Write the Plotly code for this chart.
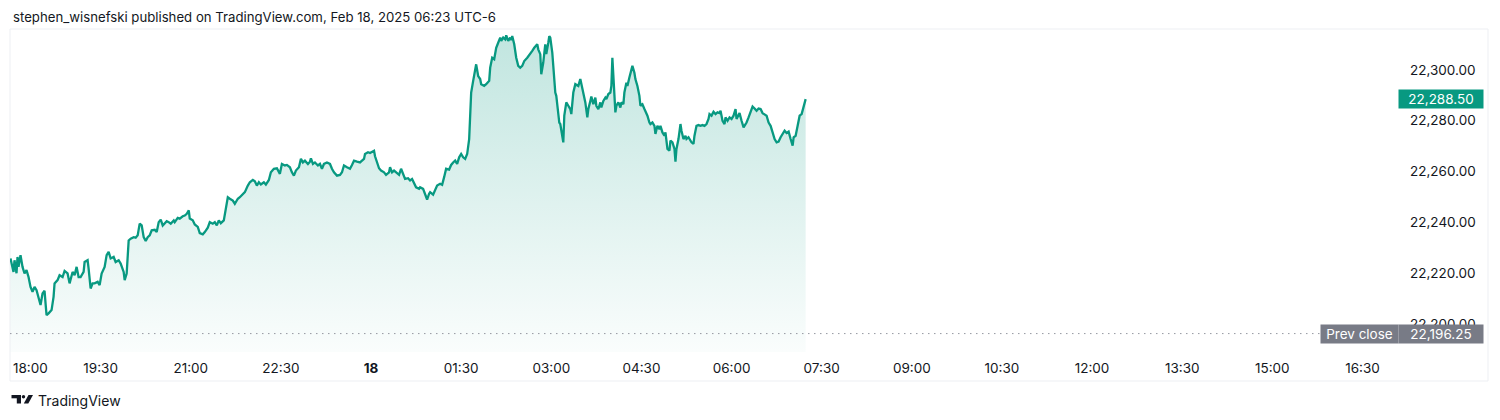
import plotly.graph_objects as go
import pandas as pd

# ---------------- data ----------------
session_start = "2025-02-17 18:00"
minutes = [0,3,4,6,7,8,10,12,14,16,18,20,22,24,26,28,30,32,34,35,36,38,41,43,44,47,49,52,54,57,59,62,64,66,68,70,73,74,77,78,80,82,84,87,89,91,94,96,98,100,103,105,108,110,113,114,116,118,120,123,125,127,129,131,133,135,137,139,141,144,146,148,150,152,154,156,158,160,163,164,167,169,172,174,176,178,179,182,184,187,189,192,194,197,199,202,204,206,208,210,213,215,217,219,222,224,227,229,232,234,237,239,242,244,246,248,250,253,255,258,260,
           263,266,269,271,274,276,279,281,283,285,288,290,292,294,297,299,300,302,304,307,309,311,313,316,319,321,323,326,329,331,333,336,339,341,343,346,349,351,353,354,357,359,361,363,364,366,368,370,373,375,378,379,381,383,385,388,390,392,394,397,399,401,403,405,408,409,412,414,416,418,419,422,424,426,429,431,433,435,438,440,442,444,446,448,450,452,454,456,458,459,460,462,463,465,467,469,470,473,475,478,479,481,483,485,487,489,490,492,494,495,497,499,500,501,503,505,507,509,511,513,516,519,521,523,526,527,529,530,532,534,535,537,538,539,
           541,542,543,544,545,547,548,549,551,552,553,554,555,557,559,560,561,562,564,567,569,570,571,573,574,576,577,579,580,582,584,585,587,589,590,592,594,595,597,599,600,601,603,604,605,607,609,610,612,613,615,616,618,619,621,623,624,626,628,629,631,633,635,636,638,639,641,643,644,646,648,649,651,653,654,656,658,659,661,663,664,665,667,669,670,672,674,675,677,679,680,682,683,685,687,689,691,693,695,697,698,700,702,704,706,708,709,711,713,714,716,718,720,722,724,725,727,728,730,732,734,735,737,739,741,743,745,747,749,751,753,755,757,759,761,763,765,767,769,771,773,775,777,779,781,782,784,786,788,790,792,794]
prices = [22225.8,22220.5,22225.1,22220.0,22226.4,22222.5,22227.1,22222.5,22219.9,22221.2,22218.5,22214.6,22212.7,22214.6,22213.3,22210.7,22207.5,22212.0,22213.1,22208.1,22203.5,22204.2,22205.5,22210.7,22216.0,22217.3,22219.2,22218.5,22220.9,22219.9,22216.0,22220.5,22219.2,22222.5,22218.5,22218.5,22220.5,22224.4,22225.1,22221.8,22214.0,22216.0,22216.0,22216.6,22215.3,22219.9,22222.5,22227.1,22228.4,22225.8,22226.4,22224.4,22225.1,22223.8,22220.5,22217.3,22219.9,22232.9,22233.6,22234.2,22234.0,22234.9,22239.5,22238.8,22234.2,22232.7,22234.2,22234.9,22236.9,22237.1,22236.2,22240.1,22241.1,22238.8,22239.5,22240.5,22240.1,22239.5,22240.8,22240.1,22241.8,22241.5,22242.4,22242.7,22243.4,22244.7,22241.5,22240.8,22239.2,22238.2,22235.8,22235.3,22236.2,22237.9,22240.1,22239.5,22240.1,22238.8,22240.8,22239.7,22240.8,22244.7,22249.9,22249.3,22248.6,22247.3,22249.3,22249.9,22251.3,22251.9,22254.5,22255.8,22256.7,22256.2,22254.5,22255.8,22254.9,22255.8,22254.9,22256.7,22259.7,
          22261.1,22261.3,22259.1,22263.0,22262.4,22262.6,22261.7,22259.7,22258.4,22260.4,22261.7,22265.0,22263.6,22264.3,22263.0,22263.9,22265.2,22263.0,22263.6,22262.4,22263.0,22261.1,22263.0,22263.6,22263.0,22261.1,22259.7,22258.4,22258.7,22259.7,22262.4,22261.7,22261.1,22262.6,22264.3,22263.9,22263.6,22264.3,22265.0,22266.9,22267.6,22267.3,22267.8,22268.2,22266.0,22263.6,22261.3,22260.4,22259.7,22258.7,22259.7,22261.7,22259.7,22260.4,22259.7,22258.7,22261.1,22259.1,22257.1,22257.4,22256.5,22257.1,22255.2,22253.8,22253.2,22253.8,22253.2,22250.6,22249.0,22251.3,22251.9,22250.9,22252.5,22254.5,22255.2,22254.8,22257.8,22261.1,22260.8,22262.6,22263.6,22264.3,22263.0,22265.6,22266.9,22265.6,22265.0,22266.9,22272.8,22280.7,22291.1,22295.7,22298.3,22302.2,22297.6,22296.4,22294.4,22293.7,22294.4,22295.7,22300.9,22304.8,22304.2,22308.7,22310.7,22312.7,22311.4,22312.7,22312.0,22313.6,22311.4,22312.7,22311.8,22313.3,22310.1,22304.8,22301.6,22300.9,22301.6,22303.5,22304.8,22306.2,22307.5,22308.7,22310.1,22308.1,22306.2,22298.3,22302.9,22310.1,22306.2,22310.7,22313.3,22312.7,
          22306.8,22301.6,22295.0,22291.1,22289.8,22282.6,22279.3,22278.7,22274.1,22271.5,22282.0,22283.9,22287.2,22285.9,22284.6,22282.6,22285.9,22291.1,22294.4,22293.7,22296.4,22294.4,22292.4,22289.8,22287.2,22281.3,22284.6,22287.8,22289.5,22286.5,22289.1,22285.9,22284.6,22287.2,22285.2,22287.8,22289.1,22288.5,22290.5,22291.1,22293.7,22304.8,22291.1,22283.3,22285.9,22287.2,22285.2,22287.2,22286.5,22291.1,22295.0,22293.7,22297.0,22298.9,22301.6,22298.9,22296.4,22293.7,22289.8,22285.9,22286.5,22284.6,22283.0,22282.0,22279.3,22278.7,22279.3,22278.0,22274.8,22278.0,22276.7,22278.0,22275.4,22274.1,22275.4,22268.9,22268.2,22272.2,22271.5,22268.9,22263.9,22268.9,22272.8,22278.7,22276.1,22272.8,22274.1,22272.8,22273.5,22272.2,22271.5,22270.9,22274.1,22278.0,22278.3,22278.0,22278.3,22278.0,22278.7,22280.7,22282.6,22282.0,22283.5,22282.6,22283.3,22283.0,22283.9,22280.0,22278.7,22281.3,22280.0,22281.3,22280.7,22282.0,22284.6,22280.7,22282.2,22283.0,22280.0,22277.4,22278.7,22279.3,22281.3,22283.9,22285.6,22284.8,22283.9,22284.8,22284.6,22283.0,22282.6,22282.0,22279.3,22278.0,22275.4,22272.8,22271.5,22271.8,22273.5,22274.8,22276.1,22275.2,22275.7,22272.8,22270.2,22273.5,22274.1,22278.0,22282.0,22282.6,22285.2,22288.5]

prev_close = 22196.25
last_price = 22288.50
x_tick_labels = ["18:00", "19:30", "21:00", "22:30", "18", "01:30", "03:00", "04:30",
                 "06:00", "07:30", "09:00", "10:30", "12:00", "13:30", "15:00", "16:30"]
x_tick_step_min = 90
y_ticks = [22200, 22220, 22240, 22260, 22280, 22300]
header = "stephen_wisnefski published on TradingView.com, Feb 18, 2025 06:23 UTC-6"

# ---------------- styling / layout ----------------
W, H = 1500, 420
GREEN = "#089981"
TEXT = "#131722"
GREY_BOX = "#787B86"
FONT = "Inter, Roboto, sans-serif"

def px(x):
    return x / W

def py(y):
    return 1 - y / H

t0 = pd.Timestamp(session_start)
xs = [t0 + pd.Timedelta(minutes=m) for m in minutes]
x_range = [t0 - pd.Timedelta(minutes=0.5), t0 + pd.Timedelta(minutes=1382.5)]
y_range = [22189.0, 22316.1]

tickvals = [t0 + pd.Timedelta(minutes=i * x_tick_step_min) for i in range(len(x_tick_labels))]
ticktext = [("<b>%s</b>" % t) if ":" not in t else t for t in x_tick_labels]

fig = go.Figure()
# invisible baseline at the bottom of the plotting area (for the gradient fill)
fig.add_trace(go.Scatter(x=[xs[0], xs[-1]], y=[y_range[0], y_range[0]], mode="lines",
                         line=dict(width=0, color="rgba(0,0,0,0)"), hoverinfo="skip",
                         showlegend=False))
fig.add_trace(go.Scatter(x=xs, y=prices, mode="lines", line=dict(color=GREEN, width=2.3),
                         fill="tonexty",
                         fillgradient=dict(type="vertical",
                                           colorscale=[[0, "rgba(8,153,129,0.02)"],
                                                       [1, "rgba(8,153,129,0.25)"]]),
                         showlegend=False, hoverinfo="skip"))

fig.update_layout(
    width=W, height=H,
    margin=dict(l=0, r=0, t=0, b=0),
    paper_bgcolor="white", plot_bgcolor="white",
    font=dict(family=FONT, size=13, color=TEXT),
    xaxis=dict(domain=[px(10), px(1395)], range=x_range, type="date",
               tickmode="array", tickvals=tickvals[1:], ticktext=ticktext[1:],
               showgrid=False, zeroline=False, showline=False, ticks="",
               ticklabelstandoff=6, tickfont=dict(size=13.5, color=TEXT, family=FONT)),
    yaxis=dict(domain=[py(352), py(29)], range=y_range, side="right",
               tickmode="array", tickvals=y_ticks, tickformat=",.2f",
               showgrid=False, zeroline=False, showline=False, ticks="",
               ticklabelstandoff=14, tickfont=dict(size=13.5, color=TEXT, family=FONT)),
)

shapes = [
    # chart frame
    dict(type="rect", xref="paper", yref="paper", x0=px(10), x1=px(1488), y0=py(381), y1=py(29),
         line=dict(color="#EDEFF3", width=1), layer="below"),
    # prev close dotted line
    dict(type="line", xref="paper", yref="y", x0=px(10), x1=px(1321), y0=prev_close, y1=prev_close,
         line=dict(color="#9598A1", width=1, dash="1.5px,4.5px")),
    # TradingView logo
    dict(type="rect", xref="paper", yref="paper", x0=px(11.5), x1=px(21), y0=py(398.3), y1=py(395),
         fillcolor=TEXT, line=dict(width=0)),
    dict(type="rect", xref="paper", yref="paper", x0=px(16.8), x1=px(21), y0=py(403.5), y1=py(395),
         fillcolor=TEXT, line=dict(width=0)),
    dict(type="circle", xref="paper", yref="paper", x0=px(21.8), x1=px(25.2), y0=py(398.4), y1=py(395),
         fillcolor=TEXT, line=dict(width=0)),
    dict(type="path", xref="paper", yref="paper",
         path="M %f %f L %f %f L %f %f L %f %f Z" % (px(23.8), py(403.5), px(28.3), py(403.5),
                                                     px(33), py(395), px(28.5), py(395)),
         fillcolor=TEXT, line=dict(width=0)),
]
fig.update_layout(shapes=shapes)

annotations = [
    dict(text=header, xref="paper", yref="paper", x=px(11), y=py(17), xanchor="left",
         yanchor="middle", showarrow=False, font=dict(size=13.2, color=TEXT, family=FONT)),
    dict(text=x_tick_labels[0], xref="paper", yref="paper", x=px(11), y=py(368), xanchor="left",
         yanchor="middle", showarrow=False, font=dict(size=13.5, color=TEXT, family=FONT)),
    dict(text="TradingView", xref="paper", yref="paper", x=px(36), y=py(400), xanchor="left",
         yanchor="middle", showarrow=False, font=dict(size=14, color=TEXT, family=FONT)),
    dict(text="%s" % format(last_price, ",.2f"), xref="paper", yref="y", x=px(1441), y=last_price,
         xanchor="center", yanchor="middle", showarrow=False, bgcolor=GREEN, width=84, height=18,
         borderpad=0, font=dict(size=13.5, color="white", family=FONT)),
    dict(text="Prev close", xref="paper", yref="y", x=px(1359.5), y=prev_close,
         xanchor="center", yanchor="middle", showarrow=False, bgcolor=GREY_BOX, width=77, height=18,
         borderpad=0, font=dict(size=13.5, color="white", family=FONT)),
    dict(text="%s" % format(prev_close, ",.2f"), xref="paper", yref="y", x=px(1441), y=prev_close,
         xanchor="center", yanchor="middle", showarrow=False, bgcolor=GREY_BOX, width=84, height=18,
         borderpad=0, font=dict(size=13.5, color="white", family=FONT)),
]
fig.update_layout(annotations=annotations)

fig.write_html("out.html", config={"displayModeBar": False},
               post_script="document.body.style.margin='0px';document.body.style.padding='0px';")
